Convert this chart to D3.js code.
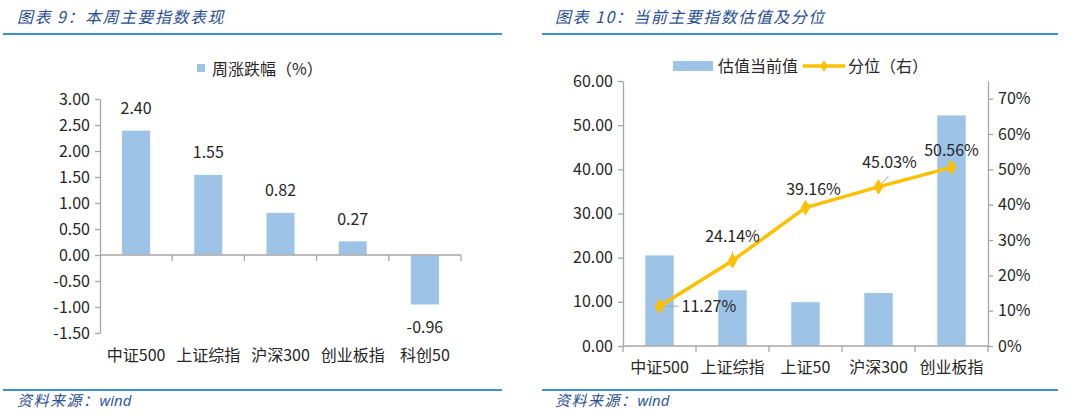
<!DOCTYPE html>
<html><head><meta charset="utf-8">
<script src="https://cdn.jsdelivr.net/npm/d3@7"></script>
<style>
html,body{margin:0;padding:0;background:#fff;}
svg{display:block;}
text{font-family:"Noto Sans CJK SC","Noto Sans",sans-serif;}
</style></head>
<body>
<svg id="c" width="1080" height="418"></svg>
<script>
// ---------- data ----------
const leftTitle = "图表 9：本周主要指数表现";
const rightTitle = "图表 10：当前主要指数估值及分位";
const sourceText = "资料来源：";
const sourceName = "wind";

const weekCats = ["中证500", "上证综指", "沪深300", "创业板指", "科创50"];
const weekChange = [2.40, 1.55, 0.82, 0.27, -0.96];
const weekLegend = "周涨跌幅（%）";
const weekTicks = [-1.5, -1.0, -0.5, 0, 0.5, 1.0, 1.5, 2.0, 2.5, 3.0];

const valCats = ["中证500", "上证综指", "上证50", "沪深300", "创业板指"];
const valCurrent = [20.6, 12.7, 10.0, 12.1, 52.3];
const valPct = [0.1127, 0.2414, 0.3916, 0.4503, 0.5056];
const valLegend = ["估值当前值", "分位（右）"];
const valLeftTicks = [0, 10, 20, 30, 40, 50, 60];
const valRightTicks = [0, 0.1, 0.2, 0.3, 0.4, 0.5, 0.6, 0.7];

// label placement (layout only)
const pctLabelOffsets = [[22, 0, "start"], [0, -24, "middle"], [8, -18, "middle"], [11, -24, "middle"], [0, -17, "middle"]];
const pctLeaders = [[7, 0, 19, 0], [0, -2, 0, -9], [1, -1, 4, -4], [0, 0, 10, -11], [0, -2, 0, -6]];

// ---------- styles ----------
const BAR = "#9DC3E6", GOLD = "#FFC000", AX = "#A6A6A6", TXT = "#262626";
const TITLE = "#2A4F96", RULE = "#3B8FD3";

const svg = d3.select("#c");

function frame(x0, x1, title, tx) {
  svg.append("text").attr("x", tx).attr("y", 23).text(title)
    .attr("font-size", 16).attr("font-style", "italic").attr("fill", TITLE)
    .attr("letter-spacing", 1.5);
  svg.append("line").attr("x1", x0).attr("x2", x1).attr("y1", 34).attr("y2", 34)
    .attr("stroke", RULE).attr("stroke-width", 2);
  svg.append("line").attr("x1", x0).attr("x2", x1).attr("y1", 390).attr("y2", 390)
    .attr("stroke", RULE).attr("stroke-width", 2);
  const s = svg.append("text").attr("x", tx).attr("y", 406).attr("font-size", 15)
    .attr("font-style", "italic").attr("fill", TITLE);
  s.append("tspan").text(sourceText).attr("letter-spacing", 1.5);
  s.append("tspan").text(sourceName).attr("font-family", "'Open Sans','DejaVu Sans',sans-serif").attr("fill", "#1F4FA8");
}
frame(3, 502, leftTitle, 17);
frame(542, 1058, rightTitle, 555);

function styleAxis(g) {
  g.select(".domain").attr("stroke", AX).attr("stroke-width", 1.3);
  g.selectAll(".tick line").attr("stroke", AX).attr("stroke-width", 1.3);
  g.selectAll(".tick text").attr("fill", TXT).attr("font-size", 16)
    .attr("font-family", "'Noto Sans','Open Sans',sans-serif");
}

// ---------- left chart ----------
{
  const x = d3.scaleBand().domain(weekCats).range([100, 461]).paddingInner(0.6).paddingOuter(0.3);
  const y = d3.scaleLinear().domain([-1.5, 3]).range([333, 99]);

  const ga = svg.append("g").attr("transform", "translate(100,0)")
    .call(d3.axisLeft(y).tickValues(weekTicks).tickSize(5).tickSizeOuter(0).tickPadding(5)
      .tickFormat(d => d.toFixed(2)));
  styleAxis(ga);

  svg.append("g").selectAll("rect").data(weekChange).join("rect")
    .attr("x", (d, i) => x(weekCats[i]))
    .attr("width", x.bandwidth())
    .attr("y", d => y(Math.max(0, d)))
    .attr("height", d => Math.abs(y(d) - y(0)))
    .attr("fill", BAR).attr("stroke", "#fff").attr("stroke-width", 0.8);

  // category axis at zero
  const step = (461 - 100) / weekCats.length;
  svg.append("line").attr("x1", 100).attr("x2", 461).attr("y1", y(0)).attr("y2", y(0))
    .attr("stroke", AX).attr("stroke-width", 1.3);
  svg.append("g").selectAll("line").data(d3.range(1, weekCats.length + 1)).join("line")
    .attr("x1", i => 100 + i * step).attr("x2", i => 100 + i * step)
    .attr("y1", y(0)).attr("y2", y(0) + 6).attr("stroke", AX).attr("stroke-width", 1.3);

  svg.append("g").selectAll("text").data(weekCats).join("text")
    .attr("x", d => x(d) + x.bandwidth() / 2).attr("y", 355).attr("dy", "0.35em")
    .attr("text-anchor", "middle").attr("font-size", 16).attr("fill", TXT).text(d => d);

  svg.append("g").selectAll("text").data(weekChange).join("text")
    .attr("x", (d, i) => x(weekCats[i]) + x.bandwidth() / 2)
    .attr("y", d => d >= 0 ? y(d) - 22 : y(d) + 22).attr("dy", "0.35em")
    .attr("text-anchor", "middle").attr("font-size", 16).attr("fill", TXT)
    .attr("font-family", "'Noto Sans',sans-serif")
    .text(d => d.toFixed(2));

  // legend
  svg.append("rect").attr("x", 197).attr("y", 64).attr("width", 8).attr("height", 8).attr("fill", BAR);
  svg.append("text").attr("x", 212).attr("y", 69).attr("dy", "0.35em").attr("font-size", 16)
    .attr("fill", TXT).text(weekLegend);
}

// ---------- right chart ----------
{
  const X0 = 623, X1 = 988;
  const x = d3.scaleBand().domain(valCats).range([X0, X1]).paddingInner(0.6).paddingOuter(0.3);
  const yL = d3.scaleLinear().domain([0, 60]).range([346, 81]);
  const yR = d3.scaleLinear().domain([0, 0.75]).range([346, 81]);

  const gl = svg.append("g").attr("transform", `translate(${X0},0)`)
    .call(d3.axisLeft(yL).tickValues(valLeftTicks).tickSize(5).tickSizeOuter(0).tickPadding(5)
      .tickFormat(d => d.toFixed(2)));
  styleAxis(gl);
  const gr = svg.append("g").attr("transform", `translate(${X1},0)`)
    .call(d3.axisRight(yR).tickValues(valRightTicks).tickSize(5).tickSizeOuter(0).tickPadding(5)
      .tickFormat(d => Math.round(d * 100) + "%"));
  styleAxis(gr);

  svg.append("g").selectAll("rect").data(valCurrent).join("rect")
    .attr("x", (d, i) => x(valCats[i])).attr("width", x.bandwidth())
    .attr("y", d => yL(d)).attr("height", d => yL(0) - yL(d))
    .attr("fill", BAR).attr("stroke", "#fff").attr("stroke-width", 0.8);

  const step = (X1 - X0) / valCats.length;
  svg.append("line").attr("x1", X0).attr("x2", X1).attr("y1", yL(0)).attr("y2", yL(0))
    .attr("stroke", AX).attr("stroke-width", 1.3);
  svg.append("g").selectAll("line").data(d3.range(0, valCats.length + 1)).join("line")
    .attr("x1", i => X0 + i * step).attr("x2", i => X0 + i * step)
    .attr("y1", yL(0)).attr("y2", yL(0) + 6).attr("stroke", AX).attr("stroke-width", 1.3);

  svg.append("g").selectAll("text").data(valCats).join("text")
    .attr("x", d => x(d) + x.bandwidth() / 2).attr("y", 367).attr("dy", "0.35em")
    .attr("text-anchor", "middle").attr("font-size", 16).attr("fill", TXT).text(d => d);

  const cx = i => x(valCats[i]) + x.bandwidth() / 2;
  const line = d3.line().x((d, i) => cx(i)).y(d => yR(d));
  svg.append("path").datum(valPct).attr("d", line).attr("fill", "none")
    .attr("stroke", GOLD).attr("stroke-width", 3.5).attr("stroke-linejoin", "round");

  // leaders
  svg.append("g").selectAll("line").data(valPct).join("line")
    .attr("x1", (d, i) => cx(i) + pctLeaders[i][0]).attr("y1", (d, i) => yR(d) + pctLeaders[i][1])
    .attr("x2", (d, i) => cx(i) + pctLeaders[i][2]).attr("y2", (d, i) => yR(d) + pctLeaders[i][3])
    .attr("stroke", AX).attr("stroke-width", 1);

  svg.append("g").selectAll("path").data(valPct).join("path")
    .attr("d", d3.symbol(d3.symbolDiamond, 60))
    .attr("transform", (d, i) => `translate(${cx(i)},${yR(d)})`)
    .attr("fill", GOLD).attr("stroke", GOLD);

  svg.append("g").selectAll("text").data(valPct).join("text")
    .attr("x", (d, i) => cx(i) + pctLabelOffsets[i][0])
    .attr("y", (d, i) => yR(d) + pctLabelOffsets[i][1]).attr("dy", "0.35em")
    .attr("text-anchor", (d, i) => pctLabelOffsets[i][2])
    .attr("font-size", 16).attr("fill", TXT).attr("font-family", "'Noto Sans',sans-serif")
    .text(d => (d * 100).toFixed(2) + "%");

  // legend
  svg.append("rect").attr("x", 673).attr("y", 61).attr("width", 40).attr("height", 10).attr("fill", BAR);
  svg.append("text").attr("x", 718).attr("y", 66).attr("dy", "0.35em").attr("font-size", 16)
    .attr("fill", TXT).text(valLegend[0]);
  svg.append("line").attr("x1", 803).attr("x2", 845).attr("y1", 66).attr("y2", 66)
    .attr("stroke", GOLD).attr("stroke-width", 3.5);
  svg.append("path").attr("d", d3.symbol(d3.symbolDiamond, 40)).attr("transform", "translate(824,66)")
    .attr("fill", GOLD);
  svg.append("text").attr("x", 848).attr("y", 66).attr("dy", "0.35em").attr("font-size", 16)
    .attr("fill", TXT).text(valLegend[1]);
}
</script>
</body></html>
